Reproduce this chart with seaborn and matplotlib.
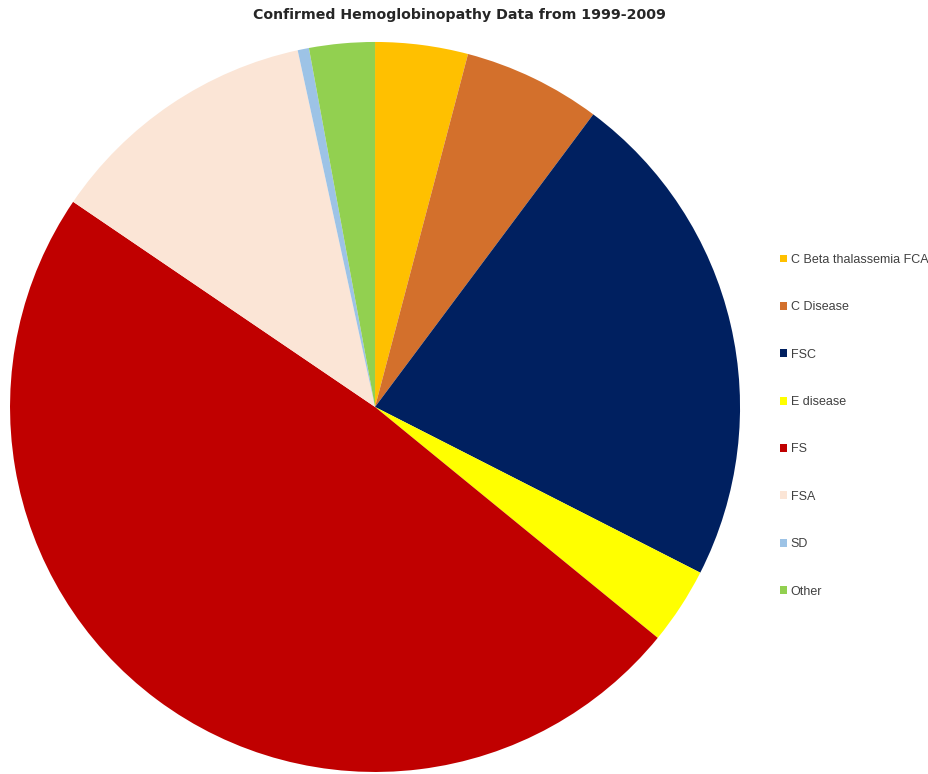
"""Pie chart of confirmed hemoglobinopathy cases, 1999-2009."""

import matplotlib.pyplot as plt
import seaborn as sns

sns.set_theme(style="white")
plt.rcParams["font.family"] = ["DejaVu Sans"]

# share of confirmed cases (%)
categories = ["C Beta thalassemia FCA", "C Disease", "FSC", "E disease", "FS", "FSA", "SD", "Other"]
shares = [4.1, 6.1, 22.3, 3.4, 48.6, 12.1, 0.5, 2.9]
colors = ["#FFC000", "#D3702C", "#002060", "#FFFF00", "#C00000", "#FBE5D6", "#9DC3E6", "#92D050"]

fig = plt.figure(figsize=(9.29, 7.74), dpi=100)
ax = fig.add_axes([0.0108, 0.0026, 0.7858, 0.9432])

wedges, _ = ax.pie(
    shares,
    colors=colors,
    startangle=90,
    counterclock=False,
    radius=1,
    wedgeprops={"linewidth": 0},
)
ax.set_xlim(-1, 1)
ax.set_ylim(-1, 1)
ax.set_aspect("equal")
ax.axis("off")

fig.text(0.495, 0.981, "Confirmed Hemoglobinopathy Data from 1999-2009",
         ha="center", va="center", fontsize=10.2, fontweight="bold", color="#262626")

fig.legend(
    wedges,
    categories,
    loc="center left",
    bbox_to_anchor=(0.827, 0.450),
    frameon=False,
    prop={"family": "Liberation Sans", "size": 9},
    handlelength=0.6,
    handleheight=0.6,
    handletextpad=0.3,
    labelspacing=2.83,
    labelcolor="#404040",
)

fig.savefig("out.png", dpi=100)
